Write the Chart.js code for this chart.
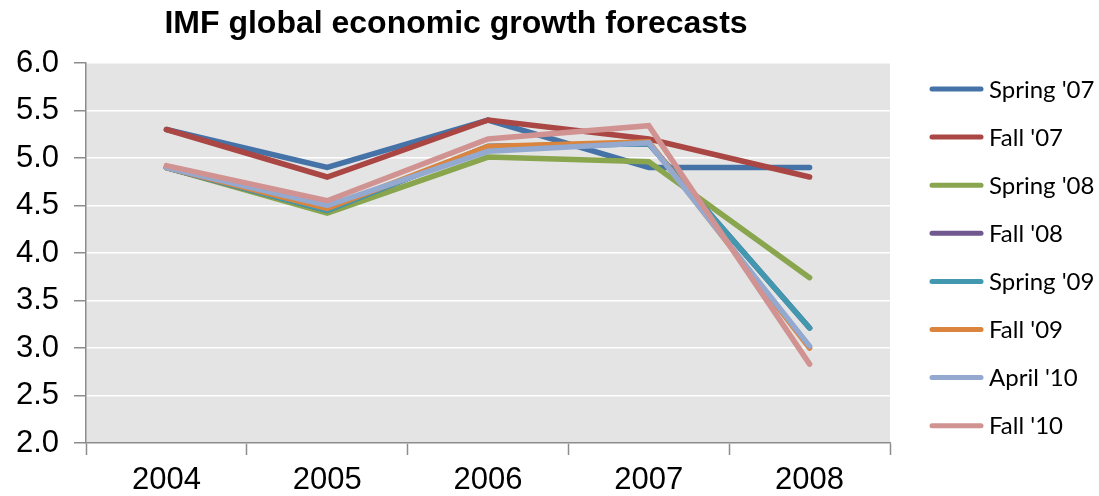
<!DOCTYPE html>
<html>
<head>
<meta charset="utf-8">
<script src="https://cdn.jsdelivr.net/npm/chart.js@4.4.1/dist/chart.umd.min.js"></script>
<style>
html,body{margin:0;padding:0;background:#fff;}
#wrap{width:1099px;height:496px;position:relative;}
</style>
</head>
<body>
<div id="wrap"><canvas id="c" width="1099" height="496"></canvas></div>
<script>
const categories = ['2004', '2005', '2006', '2007', '2008'];
const seriesNames = ["Spring '07", "Fall '07", "Spring '08", "Fall '08", "Spring '09", "Fall '09", "April '10", "Fall '10"];
const spring07 = [5.3, 4.9, 5.4, 4.9, 4.9];
const fall07   = [5.3, 4.8, 5.4, 5.2, 4.8];
const spring08 = [4.9, 4.42, 5.01, 4.96, 3.74];
const fall08   = [4.9, 4.45, 5.12, 5.15, 3.21];
const spring09 = [4.9, 4.45, 5.12, 5.15, 3.21];
const fall09   = [4.9, 4.47, 5.12, 5.17, 3.0];
const april10  = [4.9, 4.5, 5.07, 5.16, 3.02];
const fall10   = [4.92, 4.55, 5.2, 5.34, 2.83];
const yTicks = [2.0, 2.5, 3.0, 3.5, 4.0, 4.5, 5.0, 5.5, 6.0];
const allSeries = [spring07, fall07, spring08, fall08, spring09, fall09, april10, fall10];
const colors = ['#4572A7', '#AA4643', '#89A54E', '#71588F', '#4198AF', '#DB843D', '#93A9CF', '#D19392'];

const datasets = allSeries.map((d, i) => ({
  label: seriesNames[i],
  data: d,
  borderColor: colors[i],
  backgroundColor: colors[i],
  borderWidth: 5.5,
  pointRadius: 0,
  tension: 0,
  borderCapStyle: 'round',
  borderJoinStyle: 'miter',
  order: allSeries.length - i
}));

const bgPlugin = {
  id: 'bg',
  beforeDraw(chart) {
    const {ctx, chartArea: a} = chart;
    ctx.save();
    ctx.fillStyle = '#fff';
    ctx.fillRect(0, 0, chart.width, chart.height);
    ctx.fillStyle = '#E3E4E3';
    ctx.fillRect(a.left, a.top, a.right - a.left, a.bottom - a.top);
    ctx.restore();
  }
};

const deco = {
  id: 'deco',
  afterDraw(chart) {
    const ctx = chart.ctx;
    ctx.save();
    // title
    ctx.fillStyle = '#000';
    ctx.font = 'bold 32px "Liberation Sans", Arial, sans-serif';
    ctx.textAlign = 'center';
    ctx.textBaseline = 'middle';
    ctx.fillText('IMF global economic growth forecasts', 456, 24);
    // legend
    ctx.font = '24px Lato, "Open Sans", sans-serif';
    ctx.textAlign = 'left';
    chart.data.datasets.forEach((ds, i) => {
      const y = 89 + i * 48.1;
      ctx.strokeStyle = ds.borderColor;
      ctx.lineWidth = 5;
      ctx.lineCap = 'round';
      ctx.beginPath();
      ctx.moveTo(932, y);
      ctx.lineTo(981, y);
      ctx.stroke();
      ctx.fillStyle = '#000';
      ctx.fillText(ds.label, 989, y + 1);
    });
    ctx.restore();
  }
};

new Chart(document.getElementById('c'), {
  type: 'line',
  data: { labels: categories, datasets },
  plugins: [bgPlugin, deco],
  options: {
    responsive: false,
    animation: false,
    devicePixelRatio: 1,
    layout: { padding: { left: 0, right: 209, top: 63, bottom: 0 } },
    plugins: { legend: { display: false }, title: { display: false }, tooltip: { enabled: false } },
    scales: {
      x: {
        offset: true,
        grid: { offset: true, drawOnChartArea: false, drawTicks: true, tickLength: 12, tickColor: '#8C8C8C', tickWidth: 1.5 },
        border: { color: '#8C8C8C', width: 1.5 },
        ticks: { color: '#000', font: { family: '"Liberation Sans", Arial, sans-serif', size: 31 }, padding: 7, maxRotation: 0 },
        afterFit(s) { s.height = 53; }
      },
      y: {
        min: 2, max: 6,
        afterBuildTicks(s) { s.ticks = yTicks.map(v => ({ value: v })); },
        grid: { color: '#FFFFFF', lineWidth: 1.5, tickLength: 12, tickColor: '#8C8C8C', tickWidth: 1.5 },
        border: { color: '#8C8C8C', width: 1.5 },
        ticks: { color: '#000', font: { family: '"Liberation Sans", Arial, sans-serif', size: 31 }, padding: 15,
          callback: v => Number(v).toFixed(1) },
        afterFit(s) { s.width = 86; }
      }
    }
  }
});
</script>
</body>
</html>
